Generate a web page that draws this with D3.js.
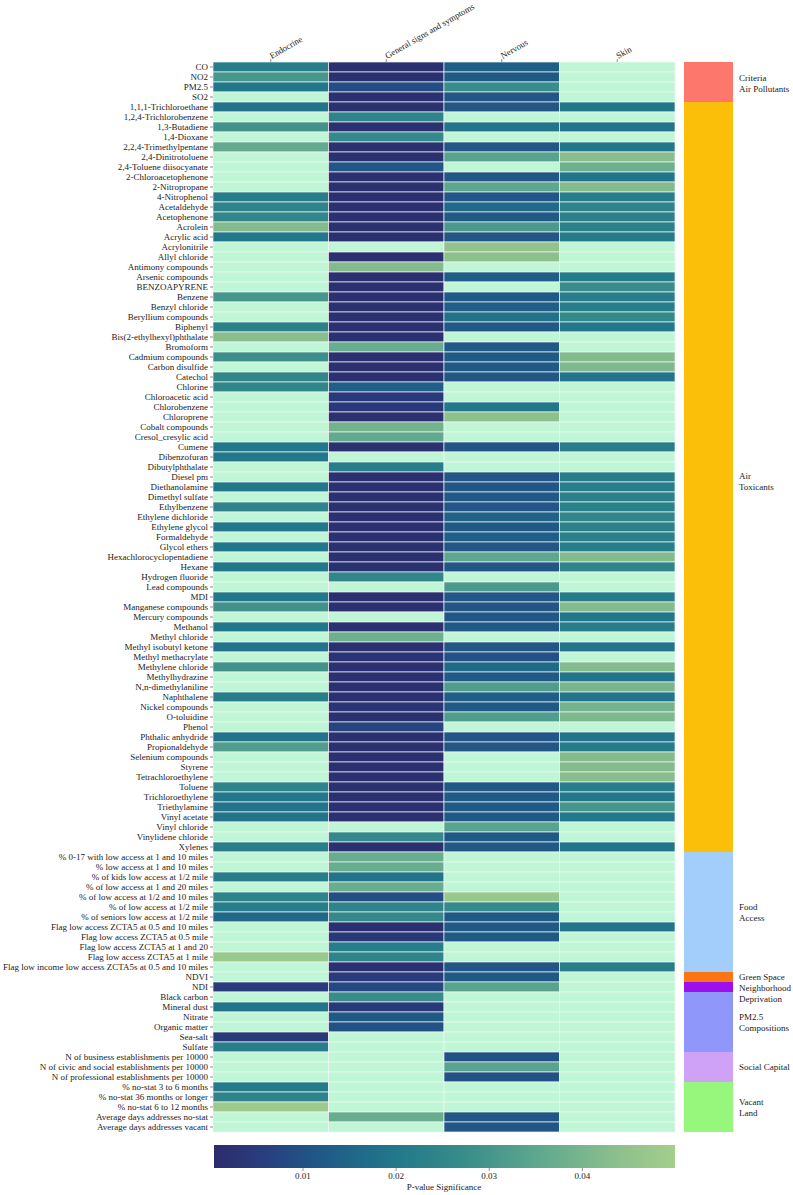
<!DOCTYPE html>
<html><head><meta charset="utf-8">
<script src="https://cdn.jsdelivr.net/npm/d3@7"></script>
<style>body{margin:0;background:#fff;} text{font-family:"Liberation Serif","Times New Roman",serif;}</style>
</head><body><svg id="chart" width="793" height="1195"></svg>
<script>
const columns = ["Endocrine","General signs and symptoms","Nervous","Skin"];
const rows = ["CO","NO2","PM2.5","SO2",
"1,1,1-Trichloroethane","1,2,4-Trichlorobenzene","1,3-Butadiene","1,4-Dioxane","2,2,4-Trimethylpentane","2,4-Dinitrotoluene","2,4-Toluene diisocyanate","2-Chloroacetophenone","2-Nitropropane","4-Nitrophenol","Acetaldehyde","Acetophenone","Acrolein","Acrylic acid",
"Acrylonitrile","Allyl chloride","Antimony compounds","Arsenic compounds","BENZOAPYRENE","Benzene","Benzyl chloride","Beryllium compounds","Biphenyl","Bis(2-ethylhexyl)phthalate","Bromoform","Cadmium compounds","Carbon disulfide","Catechol","Chlorine","Chloroacetic acid","Chlorobenzene",
"Chloroprene","Cobalt compounds","Cresol_cresylic acid","Cumene","Dibenzofuran","Dibutylphthalate","Diesel pm","Diethanolamine","Dimethyl sulfate","Ethylbenzene","Ethylene dichloride","Ethylene glycol","Formaldehyde","Glycol ethers","Hexachlorocyclopentadiene","Hexane","Hydrogen fluoride","Lead compounds",
"MDI","Manganese compounds","Mercury compounds","Methanol","Methyl chloride","Methyl isobutyl ketone","Methyl methacrylate","Methylene chloride","Methylhydrazine","N,n-dimethylaniline","Naphthalene","Nickel compounds","O-toluidine","Phenol","Phthalic anhydride","Propionaldehyde","Selenium compounds",
"Styrene","Tetrachloroethylene","Toluene","Trichloroethylene","Triethylamine","Vinyl acetate","Vinyl chloride","Vinylidene chloride","Xylenes",
"% 0-17 with low access at 1 and 10 miles","% low access at 1 and 10 miles","% of kids low access at 1/2 mile","% of low access at 1 and 20 miles","% of low access at 1/2 and 10 miles","% of low access at 1/2 mile","% of seniors low access at 1/2 mile","Flag low access ZCTA5 at 0.5 and 10 miles","Flag low access ZCTA5 at 0.5 mile","Flag low access ZCTA5 at 1 and 20","Flag low access ZCTA5 at 1 mile","Flag low income low access ZCTA5s at 0.5 and 10 miles",
"NDVI","NDI","Black carbon","Mineral dust","Nitrate","Organic matter","Sea-salt","Sulfate",
"N of business establishments per 10000","N of civic and social establishments per 10000","N of professional establishments per 10000",
"% no-stat 3 to 6 months","% no-stat 36 months or longer","% no-stat 6 to 12 months","Average days addresses no-stat","Average days addresses vacant"];
const _ = null;
const endocrine = [.022,.030,.020,_,
.019,_,.029,_,.036,_,_,_,_,.022,.024,.025,.042,.020,
_,_,_,_,_,.030,_,_,.023,.043,_,.028,_,.025,.025,_,_,
_,_,_,.020,.020,_,_,.020,_,.024,_,.020,_,.020,_,.020,_,_,
.020,.029,_,.020,_,.019,_,.029,_,_,.022,_,_,_,.019,.032,_,
_,_,.024,.020,.019,.019,_,_,.022,
_,_,.022,_,.024,.022,.016,_,_,_,.047,_,
_,.005,_,.019,_,_,.004,.022,
_,_,_,
.021,.024,.048,_,_];
const general = [.002,.002,.009,.002,
.002,.024,.002,.026,.002,.002,.011,.002,.002,.002,.002,.002,.002,.002,
_,.002,.042,.002,.002,.002,.002,.002,.002,.002,.037,.002,.002,.002,.013,.004,.004,
.002,.039,.036,.002,_,.022,.002,.002,.002,.002,.002,.002,.002,.002,.002,.002,.025,_,
.002,.002,_,.002,.038,.002,.003,.002,.002,.002,.002,.003,.002,.007,.002,.002,.002,
.002,.002,.002,.002,.002,.002,_,.026,.002,
.037,.037,.019,.037,.009,.024,.026,.002,.004,.022,.024,.002,
.005,.008,.027,.004,.012,.010,_,_,
_,_,_,
_,_,_,.037,_];
const nervous = [.013,.012,.027,.011,
.011,_,.019,_,.011,.034,_,.011,.035,.011,.016,.012,.031,.011,
.045,.044,_,.013,_,.012,.013,.018,.012,_,.012,.012,.012,.011,_,_,.020,
.044,_,_,.011,_,_,.011,.011,.012,.011,.014,.012,.013,.011,.035,.011,_,.031,
.011,.011,.011,.012,_,.011,.010,.016,.012,.032,.013,.012,.032,_,.011,.011,_,
_,_,.012,.012,.012,.012,.034,.012,.012,
_,_,_,_,.047,.026,.012,.012,.012,_,_,.011,
.012,.034,_,_,_,_,_,_,
.010,.034,.010,
_,_,_,.011,.011];
const skin = [_,_,_,_,
.020,_,.019,_,.020,.043,.038,.019,.042,.022,.024,.023,.023,.021,
_,_,_,.021,.027,.022,.022,.026,.020,_,_,.042,.041,.019,_,_,_,
_,_,_,.022,_,_,.022,.022,.023,.023,.025,.023,.023,.022,.042,.024,_,_,
.021,.042,.020,.022,_,.019,_,.042,.019,.040,.019,.039,.041,_,.019,.021,.042,
.042,.043,.022,.020,.030,.020,_,_,.019,
_,_,_,_,_,_,_,.019,_,_,_,.022,
_,_,_,_,_,_,_,_,
_,_,_,
_,_,_,_,_];
const groupNames = ["Criteria\nAir Pollutants","Air\nToxicants","Food\nAccess","Green Space","Neighborhood\nDeprivation","PM2.5\nCompositions","Social Capital","Vacant\nLand"];
const groupSizes = [4,75,12,1,1,6,3,5];
const groupColors = ["#fe776d","#fbbf0a","#a3cefb","#fb7612","#9d10ec","#8f98fa","#cfa2f7","#97f77c"];
const colorStopsP = [0.0005,0.006,0.012,0.02,0.028,0.036,0.044,0.05];
const colorStopsC = ["#2c2b6b","#283f80","#1f5a87","#21788a","#3b8f8a","#62aa8e","#8ec08c","#a4cf8c"];
const cbTicks = [0.01,0.02,0.03,0.04];
const naColor = "#bff6d6";

const svg = d3.select("#chart");
const X0=213, X1=675, Y0=62, Y1=1132;
const x = d3.scaleBand().domain(columns).range([X0,X1]);
const y = d3.scaleBand().domain(rows).range([Y0,Y1]);
const color = d3.scaleLinear().domain(colorStopsP).range(colorStopsC).interpolate(d3.interpolateRgb).clamp(true);
const series = [endocrine,general,nervous,skin];
const cells = [];
rows.forEach((r,i)=>columns.forEach((c,j)=>cells.push({r,c,v:series[j][i]})));
svg.append("g").selectAll("rect").data(cells).join("rect")
  .attr("x",d=>x(d.c)).attr("y",d=>y(d.r)).attr("width",x.bandwidth()).attr("height",y.bandwidth())
  .attr("fill",d=>d.v==null?naColor:color(d.v))
  .attr("stroke","#f4f4f4").attr("stroke-width",0.7);

// row axis
const ay = svg.append("g").attr("transform",`translate(${X0},0)`).call(d3.axisLeft(y).tickSize(3).tickPadding(2));
ay.select(".domain").remove();
ay.selectAll("text").attr("font-size",9).attr("fill","#222").style("font-family","Liberation Serif");
ay.selectAll("line").attr("stroke","#444").attr("stroke-width",0.6);

// column axis
const ax = svg.append("g").attr("transform",`translate(0,${Y0})`).call(d3.axisTop(x).tickSize(3).tickPadding(2));
ax.select(".domain").remove();
ax.selectAll("line").attr("stroke","#444").attr("stroke-width",0.6);
ax.selectAll("text").attr("font-size",8.8).attr("fill","#222").style("font-family","Liberation Serif")
  .attr("text-anchor","start").attr("transform","translate(1,-3) rotate(-30)").attr("x",0).attr("y",0).attr("dy","0");

// group sidebar
let start=0;
const groups = groupNames.map((n,i)=>{const g={name:n,start,size:groupSizes[i],color:groupColors[i]};start+=groupSizes[i];return g;});
const rowH = y.step();
const sb = svg.append("g");
sb.selectAll("rect").data(groups).join("rect")
  .attr("x",684).attr("width",49)
  .attr("y",d=>y(rows[d.start])).attr("height",d=>d.size*rowH).attr("fill",d=>d.color);
const lblOff = {"Neighborhood\nDeprivation":6,"Air\nToxicants":4,"Criteria\nAir Pollutants":1};
groups.forEach(g=>{
  const lines=g.name.split("\n");
  const cy=y(rows[g.start])+g.size*rowH/2+(lblOff[g.name]||0);
  const t=sb.append("text").attr("x",739).attr("font-size",9).attr("fill","#222");
  lines.forEach((l,k)=>t.append("tspan").attr("x",739).attr("y",cy+(k-(lines.length-1)/2)*11).attr("dy","0.35em").text(l));
});

// colorbar
const CBY=1145, CBH=23;
const cbx = d3.scaleLinear().domain([0.0005,0.05]).range([X0+1,X1]);
const defs = svg.append("defs");
const grad = defs.append("linearGradient").attr("id","cbg").attr("x1","0%").attr("x2","100%");
d3.range(0,1.0001,0.02).forEach(t=>{
  const p = 0.0005+t*(0.05-0.0005);
  grad.append("stop").attr("offset",(t*100)+"%").attr("stop-color",color(p));
});
svg.append("rect").attr("x",X0+1).attr("y",CBY).attr("width",X1-X0-1).attr("height",CBH).attr("fill","url(#cbg)");
const ac = svg.append("g").attr("transform",`translate(0,${CBY+CBH})`)
  .call(d3.axisBottom(cbx).tickValues(cbTicks).tickFormat(d3.format(".2f")).tickSize(3).tickPadding(2));
ac.select(".domain").remove();
ac.selectAll("line").attr("stroke","#444").attr("stroke-width",0.6);
ac.selectAll("text").attr("font-size",9).attr("fill","#222").style("font-family","Liberation Serif");
svg.append("text").attr("x",(X0+X1)/2).attr("y",1190).attr("text-anchor","middle").attr("font-size",9).attr("fill","#222").text("P-value Significance");
</script></body></html>
